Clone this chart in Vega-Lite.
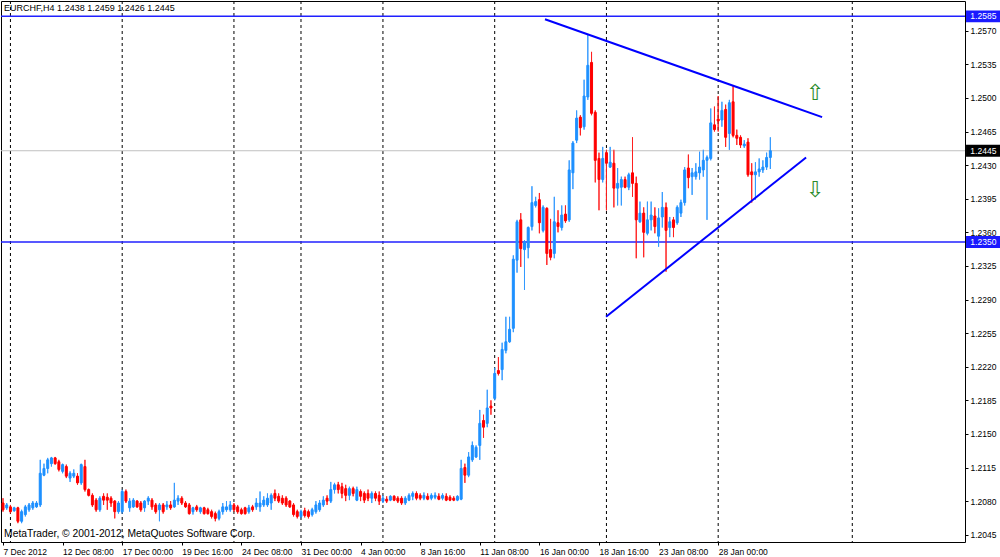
{
  "$schema": "https://vega.github.io/schema/vega-lite/v6.json",
  "width": 964,
  "height": 541,
  "autosize": {"type": "none"},
  "padding": {"left": 1, "top": 1, "right": 35, "bottom": 15},
  "background": "white",
  "config": {"view": {"stroke": "black", "strokeWidth": 1}, "font": "Liberation Sans"},
  "datasets": {
    "bars": [
      {"i":0,"o":1.2078,"h":1.2083,"l":1.2069,"c":1.2071},
      {"i":1,"o":1.2073,"h":1.2078,"l":1.2071,"c":1.2076},
      {"i":2,"o":1.2074,"h":1.2076,"l":1.2067,"c":1.2069},
      {"i":3,"o":1.2070,"h":1.2074,"l":1.2069,"c":1.2073},
      {"i":4,"o":1.2073,"h":1.2074,"l":1.2057,"c":1.2059},
      {"i":5,"o":1.2059,"h":1.2071,"l":1.2057,"c":1.2069},
      {"i":6,"o":1.2066,"h":1.2076,"l":1.2064,"c":1.2074},
      {"i":7,"o":1.2071,"h":1.2078,"l":1.2069,"c":1.2076},
      {"i":8,"o":1.2073,"h":1.2080,"l":1.2071,"c":1.2078},
      {"i":9,"o":1.2074,"h":1.2080,"l":1.2073,"c":1.2078},
      {"i":10,"o":1.2076,"h":1.2123,"l":1.2074,"c":1.2109},
      {"i":11,"o":1.2107,"h":1.2119,"l":1.2106,"c":1.2114},
      {"i":12,"o":1.2114,"h":1.2125,"l":1.2109,"c":1.2123},
      {"i":13,"o":1.2119,"h":1.2126,"l":1.2116,"c":1.2125},
      {"i":14,"o":1.2125,"h":1.2126,"l":1.2118,"c":1.2119},
      {"i":15,"o":1.2121,"h":1.2123,"l":1.2111,"c":1.2113},
      {"i":16,"o":1.2111,"h":1.2119,"l":1.2109,"c":1.2118},
      {"i":17,"o":1.2116,"h":1.2118,"l":1.2104,"c":1.2106},
      {"i":18,"o":1.2104,"h":1.2111,"l":1.2100,"c":1.2109},
      {"i":19,"o":1.2106,"h":1.2113,"l":1.2104,"c":1.2109},
      {"i":20,"o":1.2106,"h":1.2109,"l":1.2097,"c":1.2099},
      {"i":21,"o":1.2099,"h":1.2119,"l":1.2097,"c":1.2118},
      {"i":22,"o":1.2116,"h":1.2123,"l":1.2090,"c":1.2092},
      {"i":23,"o":1.2092,"h":1.2093,"l":1.2085,"c":1.2086},
      {"i":24,"o":1.2086,"h":1.2088,"l":1.2074,"c":1.2076},
      {"i":25,"o":1.2081,"h":1.2083,"l":1.2069,"c":1.2071},
      {"i":26,"o":1.2071,"h":1.2085,"l":1.2069,"c":1.2083},
      {"i":27,"o":1.2085,"h":1.2088,"l":1.2076,"c":1.2081},
      {"i":28,"o":1.2084,"h":1.2088,"l":1.2071,"c":1.2081},
      {"i":29,"o":1.2083,"h":1.2085,"l":1.2074,"c":1.2078},
      {"i":30,"o":1.2080,"h":1.2081,"l":1.2062,"c":1.2069},
      {"i":31,"o":1.2069,"h":1.2080,"l":1.2067,"c":1.2078},
      {"i":32,"o":1.2069,"h":1.2092,"l":1.2067,"c":1.2090},
      {"i":33,"o":1.2090,"h":1.2092,"l":1.2078,"c":1.2080},
      {"i":34,"o":1.2073,"h":1.2083,"l":1.2069,"c":1.2080},
      {"i":35,"o":1.2074,"h":1.2083,"l":1.2073,"c":1.2081},
      {"i":36,"o":1.2080,"h":1.2081,"l":1.2073,"c":1.2074},
      {"i":37,"o":1.2078,"h":1.2080,"l":1.2069,"c":1.2071},
      {"i":38,"o":1.2073,"h":1.2081,"l":1.2069,"c":1.2080},
      {"i":39,"o":1.2080,"h":1.2085,"l":1.2076,"c":1.2083},
      {"i":40,"o":1.2081,"h":1.2083,"l":1.2071,"c":1.2074},
      {"i":41,"o":1.2076,"h":1.2078,"l":1.2067,"c":1.2069},
      {"i":42,"o":1.2071,"h":1.2078,"l":1.2059,"c":1.2076},
      {"i":43,"o":1.2076,"h":1.2078,"l":1.2067,"c":1.2069},
      {"i":44,"o":1.2074,"h":1.2080,"l":1.2071,"c":1.2076},
      {"i":45,"o":1.2076,"h":1.2080,"l":1.2071,"c":1.2073},
      {"i":46,"o":1.2074,"h":1.2099,"l":1.2073,"c":1.2081},
      {"i":47,"o":1.2080,"h":1.2086,"l":1.2076,"c":1.2083},
      {"i":48,"o":1.2083,"h":1.2085,"l":1.2076,"c":1.2078},
      {"i":49,"o":1.2078,"h":1.2080,"l":1.2073,"c":1.2074},
      {"i":50,"o":1.2076,"h":1.2078,"l":1.2066,"c":1.2067},
      {"i":51,"o":1.2069,"h":1.2074,"l":1.2066,"c":1.2073},
      {"i":52,"o":1.2074,"h":1.2076,"l":1.2069,"c":1.2071},
      {"i":53,"o":1.2069,"h":1.2074,"l":1.2067,"c":1.2073},
      {"i":54,"o":1.2073,"h":1.2074,"l":1.2066,"c":1.2067},
      {"i":55,"o":1.2071,"h":1.2073,"l":1.2066,"c":1.2067},
      {"i":56,"o":1.2069,"h":1.2071,"l":1.2062,"c":1.2064},
      {"i":57,"o":1.2067,"h":1.2069,"l":1.2059,"c":1.2062},
      {"i":58,"o":1.2062,"h":1.2071,"l":1.2060,"c":1.2069},
      {"i":59,"o":1.2069,"h":1.2078,"l":1.2066,"c":1.2074},
      {"i":60,"o":1.2071,"h":1.2080,"l":1.2069,"c":1.2074},
      {"i":61,"o":1.2071,"h":1.2080,"l":1.2069,"c":1.2076},
      {"i":62,"o":1.2076,"h":1.2078,"l":1.2069,"c":1.2071},
      {"i":63,"o":1.2074,"h":1.2076,"l":1.2067,"c":1.2069},
      {"i":64,"o":1.2071,"h":1.2073,"l":1.2066,"c":1.2067},
      {"i":65,"o":1.2073,"h":1.2074,"l":1.2066,"c":1.2067},
      {"i":66,"o":1.2069,"h":1.2076,"l":1.2067,"c":1.2073},
      {"i":67,"o":1.2074,"h":1.2076,"l":1.2069,"c":1.2071},
      {"i":68,"o":1.2074,"h":1.2083,"l":1.2071,"c":1.2078},
      {"i":69,"o":1.2074,"h":1.2090,"l":1.2069,"c":1.2078},
      {"i":70,"o":1.2076,"h":1.2085,"l":1.2074,"c":1.2081},
      {"i":71,"o":1.2076,"h":1.2088,"l":1.2074,"c":1.2083},
      {"i":72,"o":1.2078,"h":1.2088,"l":1.2071,"c":1.2086},
      {"i":73,"o":1.2088,"h":1.2092,"l":1.2080,"c":1.2083},
      {"i":74,"o":1.2085,"h":1.2088,"l":1.2078,"c":1.2080},
      {"i":75,"o":1.2083,"h":1.2086,"l":1.2076,"c":1.2078},
      {"i":76,"o":1.2083,"h":1.2085,"l":1.2074,"c":1.2076},
      {"i":77,"o":1.2080,"h":1.2081,"l":1.2073,"c":1.2074},
      {"i":78,"o":1.2076,"h":1.2078,"l":1.2064,"c":1.2066},
      {"i":79,"o":1.2069,"h":1.2071,"l":1.2062,"c":1.2064},
      {"i":80,"o":1.2064,"h":1.2071,"l":1.2062,"c":1.2069},
      {"i":81,"o":1.2070,"h":1.2073,"l":1.2063,"c":1.2065},
      {"i":82,"o":1.2069,"h":1.2071,"l":1.2062,"c":1.2064},
      {"i":83,"o":1.2066,"h":1.2073,"l":1.2064,"c":1.2071},
      {"i":84,"o":1.2069,"h":1.2080,"l":1.2067,"c":1.2076},
      {"i":85,"o":1.2071,"h":1.2081,"l":1.2069,"c":1.2078},
      {"i":86,"o":1.2076,"h":1.2085,"l":1.2074,"c":1.2081},
      {"i":87,"o":1.2083,"h":1.2086,"l":1.2076,"c":1.2080},
      {"i":88,"o":1.2080,"h":1.2100,"l":1.2078,"c":1.2092},
      {"i":89,"o":1.2092,"h":1.2099,"l":1.2088,"c":1.2097},
      {"i":90,"o":1.2097,"h":1.2100,"l":1.2088,"c":1.2092},
      {"i":91,"o":1.2095,"h":1.2099,"l":1.2083,"c":1.2088},
      {"i":92,"o":1.2093,"h":1.2097,"l":1.2080,"c":1.2086},
      {"i":93,"o":1.2086,"h":1.2095,"l":1.2081,"c":1.2093},
      {"i":94,"o":1.2093,"h":1.2095,"l":1.2085,"c":1.2088},
      {"i":95,"o":1.2081,"h":1.2095,"l":1.2080,"c":1.2092},
      {"i":96,"o":1.2090,"h":1.2092,"l":1.2080,"c":1.2085},
      {"i":97,"o":1.2088,"h":1.2090,"l":1.2078,"c":1.2081},
      {"i":98,"o":1.2088,"h":1.2092,"l":1.2080,"c":1.2083},
      {"i":99,"o":1.2083,"h":1.2090,"l":1.2078,"c":1.2088},
      {"i":100,"o":1.2088,"h":1.2090,"l":1.2080,"c":1.2083},
      {"i":101,"o":1.2086,"h":1.2090,"l":1.2076,"c":1.2080},
      {"i":102,"o":1.2080,"h":1.2086,"l":1.2078,"c":1.2083},
      {"i":103,"o":1.2082,"h":1.2085,"l":1.2078,"c":1.2080},
      {"i":104,"o":1.2081,"h":1.2086,"l":1.2080,"c":1.2085},
      {"i":105,"o":1.2085,"h":1.2086,"l":1.2080,"c":1.2081},
      {"i":106,"o":1.2083,"h":1.2085,"l":1.2078,"c":1.2080},
      {"i":107,"o":1.2083,"h":1.2085,"l":1.2076,"c":1.2078},
      {"i":108,"o":1.2078,"h":1.2085,"l":1.2076,"c":1.2083},
      {"i":109,"o":1.2081,"h":1.2088,"l":1.2080,"c":1.2086},
      {"i":110,"o":1.2085,"h":1.2090,"l":1.2081,"c":1.2088},
      {"i":111,"o":1.2088,"h":1.2090,"l":1.2081,"c":1.2083},
      {"i":112,"o":1.2086,"h":1.2088,"l":1.2081,"c":1.2083},
      {"i":113,"o":1.2083,"h":1.2089,"l":1.2081,"c":1.2086},
      {"i":114,"o":1.2085,"h":1.2088,"l":1.2081,"c":1.2082},
      {"i":115,"o":1.2083,"h":1.2088,"l":1.2081,"c":1.2086},
      {"i":116,"o":1.2084,"h":1.2089,"l":1.2082,"c":1.2086},
      {"i":117,"o":1.2085,"h":1.2088,"l":1.2081,"c":1.2082},
      {"i":118,"o":1.2083,"h":1.2088,"l":1.2081,"c":1.2086},
      {"i":119,"o":1.2085,"h":1.2088,"l":1.2080,"c":1.2081},
      {"i":120,"o":1.2084,"h":1.2086,"l":1.2080,"c":1.2081},
      {"i":121,"o":1.2083,"h":1.2085,"l":1.2080,"c":1.2081},
      {"i":122,"o":1.2081,"h":1.2086,"l":1.2080,"c":1.2085},
      {"i":123,"o":1.2082,"h":1.2123,"l":1.2081,"c":1.2114},
      {"i":124,"o":1.2115,"h":1.2119,"l":1.2099,"c":1.2107},
      {"i":125,"o":1.2107,"h":1.2131,"l":1.2105,"c":1.2126},
      {"i":126,"o":1.2123,"h":1.2142,"l":1.2121,"c":1.2138},
      {"i":127,"o":1.2126,"h":1.2138,"l":1.2125,"c":1.2136},
      {"i":128,"o":1.2138,"h":1.2175,"l":1.2123,"c":1.2161},
      {"i":129,"o":1.2164,"h":1.2170,"l":1.2146,"c":1.2157},
      {"i":130,"o":1.2161,"h":1.2196,"l":1.2157,"c":1.2177},
      {"i":131,"o":1.2179,"h":1.2185,"l":1.2170,"c":1.2177},
      {"i":132,"o":1.2187,"h":1.2219,"l":1.2185,"c":1.2213},
      {"i":133,"o":1.2216,"h":1.2230,"l":1.2211,"c":1.2213},
      {"i":134,"o":1.2217,"h":1.2245,"l":1.2206,"c":1.2238},
      {"i":135,"o":1.2237,"h":1.2272,"l":1.2234,"c":1.2246},
      {"i":136,"o":1.2246,"h":1.2272,"l":1.2245,"c":1.2259},
      {"i":137,"o":1.2260,"h":1.2336,"l":1.2256,"c":1.2332},
      {"i":138,"o":1.2331,"h":1.2373,"l":1.2318,"c":1.2371},
      {"i":139,"o":1.2373,"h":1.2380,"l":1.2324,"c":1.2343},
      {"i":140,"o":1.2342,"h":1.2352,"l":1.2300,"c":1.2350},
      {"i":141,"o":1.2344,"h":1.2366,"l":1.2333,"c":1.2365},
      {"i":142,"o":1.2366,"h":1.2408,"l":1.2362,"c":1.2391},
      {"i":143,"o":1.2388,"h":1.2397,"l":1.2386,"c":1.2392},
      {"i":144,"o":1.2394,"h":1.2401,"l":1.2359,"c":1.2370},
      {"i":145,"o":1.2362,"h":1.2388,"l":1.2360,"c":1.2386},
      {"i":146,"o":1.2385,"h":1.2386,"l":1.2326,"c":1.2338},
      {"i":147,"o":1.2342,"h":1.2374,"l":1.2331,"c":1.2334},
      {"i":148,"o":1.2338,"h":1.2397,"l":1.2333,"c":1.2371},
      {"i":149,"o":1.2370,"h":1.2383,"l":1.2360,"c":1.2366},
      {"i":150,"o":1.2365,"h":1.2388,"l":1.2362,"c":1.2378},
      {"i":151,"o":1.2379,"h":1.2388,"l":1.2370,"c":1.2372},
      {"i":152,"o":1.2373,"h":1.2435,"l":1.2371,"c":1.2425},
      {"i":153,"o":1.2422,"h":1.2455,"l":1.2405,"c":1.2453},
      {"i":154,"o":1.2456,"h":1.2487,"l":1.2453,"c":1.2479},
      {"i":155,"o":1.2480,"h":1.2482,"l":1.2461,"c":1.2469},
      {"i":156,"o":1.2470,"h":1.2519,"l":1.2467,"c":1.2502},
      {"i":157,"o":1.2501,"h":1.2566,"l":1.2498,"c":1.2534},
      {"i":158,"o":1.2537,"h":1.2548,"l":1.2482,"c":1.2484},
      {"i":159,"o":1.2485,"h":1.2487,"l":1.2412,"c":1.2435},
      {"i":160,"o":1.2437,"h":1.2443,"l":1.2383,"c":1.2415},
      {"i":161,"o":1.2415,"h":1.2449,"l":1.2412,"c":1.2437},
      {"i":162,"o":1.2443,"h":1.2446,"l":1.2383,"c":1.2432},
      {"i":163,"o":1.2428,"h":1.2449,"l":1.2427,"c":1.2433},
      {"i":164,"o":1.2432,"h":1.2446,"l":1.2386,"c":1.2406},
      {"i":165,"o":1.2406,"h":1.2427,"l":1.2388,"c":1.2411},
      {"i":166,"o":1.2407,"h":1.2418,"l":1.2388,"c":1.2415},
      {"i":167,"o":1.2415,"h":1.2418,"l":1.2406,"c":1.2407},
      {"i":168,"o":1.2407,"h":1.2422,"l":1.2404,"c":1.2420},
      {"i":169,"o":1.2422,"h":1.2459,"l":1.2397,"c":1.2411},
      {"i":170,"o":1.2411,"h":1.2418,"l":1.2333,"c":1.2373},
      {"i":171,"o":1.2371,"h":1.2392,"l":1.2370,"c":1.2380},
      {"i":172,"o":1.2380,"h":1.2386,"l":1.2334,"c":1.2360},
      {"i":173,"o":1.2359,"h":1.2392,"l":1.2357,"c":1.2373},
      {"i":174,"o":1.2373,"h":1.2392,"l":1.2362,"c":1.2378},
      {"i":175,"o":1.2377,"h":1.2386,"l":1.2359,"c":1.2366},
      {"i":176,"o":1.2356,"h":1.2385,"l":1.2345,"c":1.2375},
      {"i":177,"o":1.2376,"h":1.2402,"l":1.2365,"c":1.2386},
      {"i":178,"o":1.2386,"h":1.2391,"l":1.2319,"c":1.2362},
      {"i":179,"o":1.2365,"h":1.2376,"l":1.2355,"c":1.2371},
      {"i":180,"o":1.2373,"h":1.2376,"l":1.2355,"c":1.2365},
      {"i":181,"o":1.2370,"h":1.2388,"l":1.2368,"c":1.2386},
      {"i":182,"o":1.2380,"h":1.2394,"l":1.2376,"c":1.2391},
      {"i":183,"o":1.2391,"h":1.2428,"l":1.2388,"c":1.2425},
      {"i":184,"o":1.2427,"h":1.2441,"l":1.2406,"c":1.2417},
      {"i":185,"o":1.2418,"h":1.2427,"l":1.2399,"c":1.2422},
      {"i":186,"o":1.2418,"h":1.2432,"l":1.2415,"c":1.2423},
      {"i":187,"o":1.2422,"h":1.2444,"l":1.2415,"c":1.2428},
      {"i":188,"o":1.2425,"h":1.2446,"l":1.2418,"c":1.2435},
      {"i":189,"o":1.2435,"h":1.2440,"l":1.2373,"c":1.2438},
      {"i":190,"o":1.2437,"h":1.2489,"l":1.2435,"c":1.2474},
      {"i":191,"o":1.2472,"h":1.2491,"l":1.2465,"c":1.2467},
      {"i":192,"o":1.2478,"h":1.2502,"l":1.2465,"c":1.2476},
      {"i":193,"o":1.2477,"h":1.2496,"l":1.2470,"c":1.2487},
      {"i":194,"o":1.2488,"h":1.2493,"l":1.2449,"c":1.2459},
      {"i":195,"o":1.2463,"h":1.2498,"l":1.2446,"c":1.2495},
      {"i":196,"o":1.2496,"h":1.2513,"l":1.2459,"c":1.2461},
      {"i":197,"o":1.2461,"h":1.2467,"l":1.2451,"c":1.2458},
      {"i":198,"o":1.2459,"h":1.2461,"l":1.2448,"c":1.2451},
      {"i":199,"o":1.2450,"h":1.2456,"l":1.2448,"c":1.2452},
      {"i":200,"o":1.2454,"h":1.2458,"l":1.2418,"c":1.2420},
      {"i":201,"o":1.2423,"h":1.2432,"l":1.2391,"c":1.2420},
      {"i":202,"o":1.2420,"h":1.2433,"l":1.2394,"c":1.2423},
      {"i":203,"o":1.2423,"h":1.2437,"l":1.2418,"c":1.2426},
      {"i":204,"o":1.2425,"h":1.2435,"l":1.2422,"c":1.2428},
      {"i":205,"o":1.2428,"h":1.2443,"l":1.2425,"c":1.2438},
      {"i":206,"o":1.2438,"h":1.2459,"l":1.2426,"c":1.2445}
    ],
    "separators": [{"i":2},{"i":32},{"i":62},{"i":80},{"i":102},{"i":132},{"i":162},{"i":192},{"i":228}],
    "levels": [{"p":1.2585},{"p":1.2350}],
    "bid": [{"p":1.2445}],
    "trendlines": [
      {"name":"resistance","i1":145.5,"p1":1.2582,"i2":219.9,"p2":1.2480},
      {"name":"support","i1":161.9,"p1":1.2272,"i2":215.6,"p2":1.2438}
    ],
    "arrows": [{"sym":"⇧","p":1.2505},{"sym":"⇩","p":1.2404}],
    "pricetags": [{"p":1.2585},{"p":1.2350},{"p":1.2445}]
  },
  "layer": [
    {
      "data": {"name": "bars"},
      "mark": {"type": "rule", "strokeWidth": 1},
      "encoding": {
        "x": {
          "field": "i", "type": "quantitative", "title": null,
          "scale": {"domain": [-0.537, 258.26], "nice": false, "zero": false, "padding": 0},
          "axis": {
            "orient": "bottom",
            "values": [0, 16, 32, 48, 64, 80, 96, 112, 128, 144, 160, 176, 192],
            "tickCount": 30,
            "labelExpr": "['7 Dec 2012','12 Dec 08:00','17 Dec 00:00','19 Dec 16:00','24 Dec 08:00','31 Dec 00:00','4 Jan 00:00','8 Jan 16:00','11 Jan 08:00','16 Jan 00:00','18 Jan 16:00','23 Jan 08:00','28 Jan 00:00'][round(datum.value / 16)]",
            "labelAlign": "left", "labelBaseline": "top", "labelPadding": 2, "labelDx": -1,
            "tickSize": 3, "tickColor": "black", "domain": false, "grid": false,
            "labelOverlap": false, "labelFlush": false, "labelBound": false,
            "labelFont": "Liberation Sans", "labelFontSize": 8.5, "labelColor": "black"
          }
        },
        "y": {
          "field": "l", "type": "quantitative", "title": null,
          "scale": {"domain": [1.20374, 1.2601], "nice": false, "zero": false, "padding": 0},
          "axis": {
            "orient": "right",
            "values": [1.2045, 1.2080, 1.2115, 1.2150, 1.2185, 1.2220, 1.2255, 1.2290, 1.2325, 1.2360, 1.2395, 1.2430, 1.2465, 1.2500, 1.2535, 1.2570],
            "tickCount": 30,
            "format": ".4f", "tickSize": 3, "tickColor": "black", "labelPadding": 2,
            "domain": false, "grid": false, "labelOverlap": false, "labelFlush": false, "labelBound": false,
            "labelFont": "Liberation Sans", "labelFontSize": 8.5, "labelColor": "black"
          }
        },
        "y2": {"field": "h"},
        "color": {"condition": {"test": "datum.c < datum.o", "value": "#ff2020"}, "value": "#3399ff"}
      }
    },
    {
      "data": {"name": "separators"},
      "mark": {"type": "rule", "color": "black", "strokeWidth": 1, "strokeDash": [3, 3]},
      "encoding": {
        "x": {"field": "i", "type": "quantitative", "title": null}
      }
    },
    {
      "data": {"name": "bid"},
      "mark": {"type": "rule", "color": "#c0c0c0", "strokeWidth": 1},
      "encoding": {
        "y": {"field": "p", "type": "quantitative", "title": null}
      }
    },
    {
      "data": {"name": "levels"},
      "mark": {"type": "rule", "color": "#2020ff", "strokeWidth": 1.5},
      "encoding": {
        "y": {"field": "p", "type": "quantitative", "title": null}
      }
    },
    {
      "data": {"name": "bars"},
      "mark": {"type": "rule", "strokeWidth": 1},
      "encoding": {
        "x": {"field": "i", "type": "quantitative", "title": null},
        "y": {"field": "l", "type": "quantitative", "title": null},
        "y2": {"field": "h"},
        "color": {"condition": {"test": "datum.c < datum.o", "value": "#ff2020"}, "value": "#3399ff"}
      }
    },
    {
      "data": {"name": "bars"},
      "mark": {"type": "bar", "size": 2, "strokeWidth": 1},
      "encoding": {
        "x": {"field": "i", "type": "quantitative", "title": null},
        "y": {"field": "o", "type": "quantitative", "title": null},
        "y2": {"field": "c"},
        "fill": {"condition": {"test": "datum.c < datum.o", "value": "#ff0000"}, "value": "#1e90ff"},
        "stroke": {"condition": {"test": "datum.c < datum.o", "value": "#ff0000"}, "value": "#1e90ff"}
      }
    },
    {
      "data": {"name": "trendlines"},
      "mark": {"type": "rule", "color": "#0000ff", "strokeWidth": 2},
      "encoding": {
        "x": {"field": "i1", "type": "quantitative", "title": null},
        "x2": {"field": "i2"},
        "y": {"field": "p1", "type": "quantitative", "title": null},
        "y2": {"field": "p2"}
      }
    },
    {
      "data": {"name": "arrows"},
      "mark": {"type": "text", "font": "DejaVu Sans", "fontSize": 22, "color": "#2a8a2a", "align": "center", "baseline": "middle"},
      "encoding": {
        "x": {"datum": 218},
        "y": {"field": "p", "type": "quantitative", "title": null},
        "text": {"field": "sym"}
      }
    },
    {
      "data": {"values": [{"label": "EURCHF,H4  1.2438 1.2459 1.2426 1.2445"}]},
      "mark": {"type": "text", "font": "Liberation Sans", "fontSize": 9, "color": "black", "align": "left", "baseline": "middle"},
      "encoding": {
        "x": {"datum": 0.3},
        "y": {"datum": 1.2594},
        "text": {"field": "label"}
      }
    },
    {
      "data": {"values": [{"label": "MetaTrader, © 2001-2012, MetaQuotes Software Corp."}]},
      "mark": {"type": "text", "font": "Liberation Sans", "fontSize": 10.3, "color": "black", "align": "left", "baseline": "middle"},
      "encoding": {
        "x": {"datum": 0.3},
        "y": {"datum": 1.2046},
        "text": {"field": "label"}
      }
    },
    {
      "data": {"name": "pricetags"},
      "mark": {"type": "point", "filled": true, "opacity": 1, "shape": "M-1,-0.35L1,-0.35L1,0.35L-1,0.35Z", "size": 1156},
      "encoding": {
        "x": {"datum": 263.1},
        "y": {"field": "p", "type": "quantitative", "title": null},
        "color": {"condition": {"test": "datum.p == 1.2445", "value": "black"}, "value": "#1a1aff"}
      }
    },
    {
      "data": {"name": "pricetags"},
      "mark": {"type": "text", "font": "Liberation Sans", "fontSize": 8.5, "color": "white", "align": "left", "baseline": "middle"},
      "encoding": {
        "x": {"datum": 259.7},
        "y": {"field": "p", "type": "quantitative", "title": null},
        "text": {"field": "p", "format": ".4f"}
      }
    }
  ]
}
